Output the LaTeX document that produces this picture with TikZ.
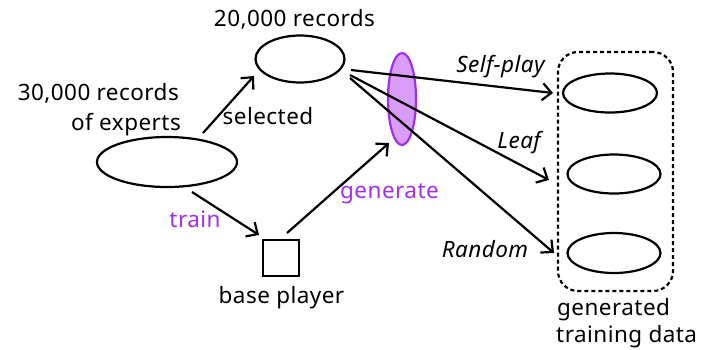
\documentclass[tikz,border=0pt]{standalone}
\usepackage{fontspec}
\setmainfont{Noto Sans}[LetterSpace=2]
\usetikzlibrary{arrows.meta,shapes.geometric}
\definecolor{purp}{HTML}{A030E8}
\definecolor{purpfill}{HTML}{D99CF7}
\begin{document}
\begin{tikzpicture}[x=1pt,y=-1pt,
  every node/.style={font=\fontsize{22.5}{30}\selectfont},
  oval/.style={ellipse,draw,line width=2.2pt,inner sep=0pt},
  conn/.style={line width=2.2pt,-{Straight Barb[length=9pt,width=17pt,line width=2.2pt]}},
  lbl/.style={anchor=base,inner sep=0pt},
  plbl/.style={lbl,text=purp}]
\useasboundingbox (0,0) rectangle (701,349);
% nodes
\node[oval,minimum width=140pt,minimum height=50pt] (exp) at (167,162) {};
\node[oval,minimum width=89pt,minimum height=47pt] (sel) at (300,59) {};
\node[ellipse,draw=purp,fill=purpfill,line width=2.2pt,inner sep=0pt,minimum width=28pt,minimum height=92pt] (gen) at (402,99) {};
\node[draw,line width=2.2pt,minimum size=36pt,inner sep=0pt] (base) at (281,258) {};
\node[draw,dashed,dash pattern=on 4pt off 3pt,line width=2.2pt,rounded corners=20pt,minimum width=115pt,minimum height=239pt,inner sep=0pt] (box) at (615.5,171.5) {};
\node[oval,minimum width=94pt,minimum height=39pt] (d1) at (610,93) {};
\node[oval,minimum width=93pt,minimum height=39pt] (d2) at (614,174) {};
\node[oval,minimum width=93pt,minimum height=40pt] (d3) at (614,253) {};
% anchor coordinates for connectors
\coordinate (e1) at (203,133);
\coordinate (e2) at (192,192);
\coordinate (b1) at (287,233);
\coordinate (s1) at (351,70);
\coordinate (s2) at (350,75);
\coordinate (s3) at (350,78);
\coordinate (t0) at (254,76);
\coordinate (t1) at (259,235);
\coordinate (t2) at (389,143);
\coordinate (t3) at (553,93);
\coordinate (t4) at (549,180);
\coordinate (t5) at (554,253);
% connectors
\draw[conn] (e1) -- (t0);
\draw[conn] (e2) -- (t1);
\draw[conn] (b1) -- (t2);
\draw[conn] (s1) -- (t3);
\draw[conn] (s2) -- (t4);
\draw[conn] (s3) -- (t5);
% labels
\node[lbl] (l20) at (294.5,26) {20,000 records};
\node[lbl,anchor=base east] (l30) at (179,100) {30,000 records};
\node[lbl,anchor=base east] (lof) at (181,130) {of experts};
\node[lbl] (lsel) at (268,124) {selected};
\node[plbl] (ltr) at (195,227) {train};
\node[plbl] (lgen) at (389.5,198) {generate};
\node[lbl] (lbase) at (281.5,303) {base player};
\node[lbl] (lsp) at (500.5,72) {\itshape Self-play};
\node[lbl] (lleaf) at (519,148) {\itshape Leaf};
\node[lbl] (lrand) at (485,257) {\itshape Random};
\node[lbl,anchor=base west] (lg1) at (557,315) {generated};
\node[lbl,anchor=base west] (lg2) at (556,342) {training data};
\end{tikzpicture}
\end{document}
